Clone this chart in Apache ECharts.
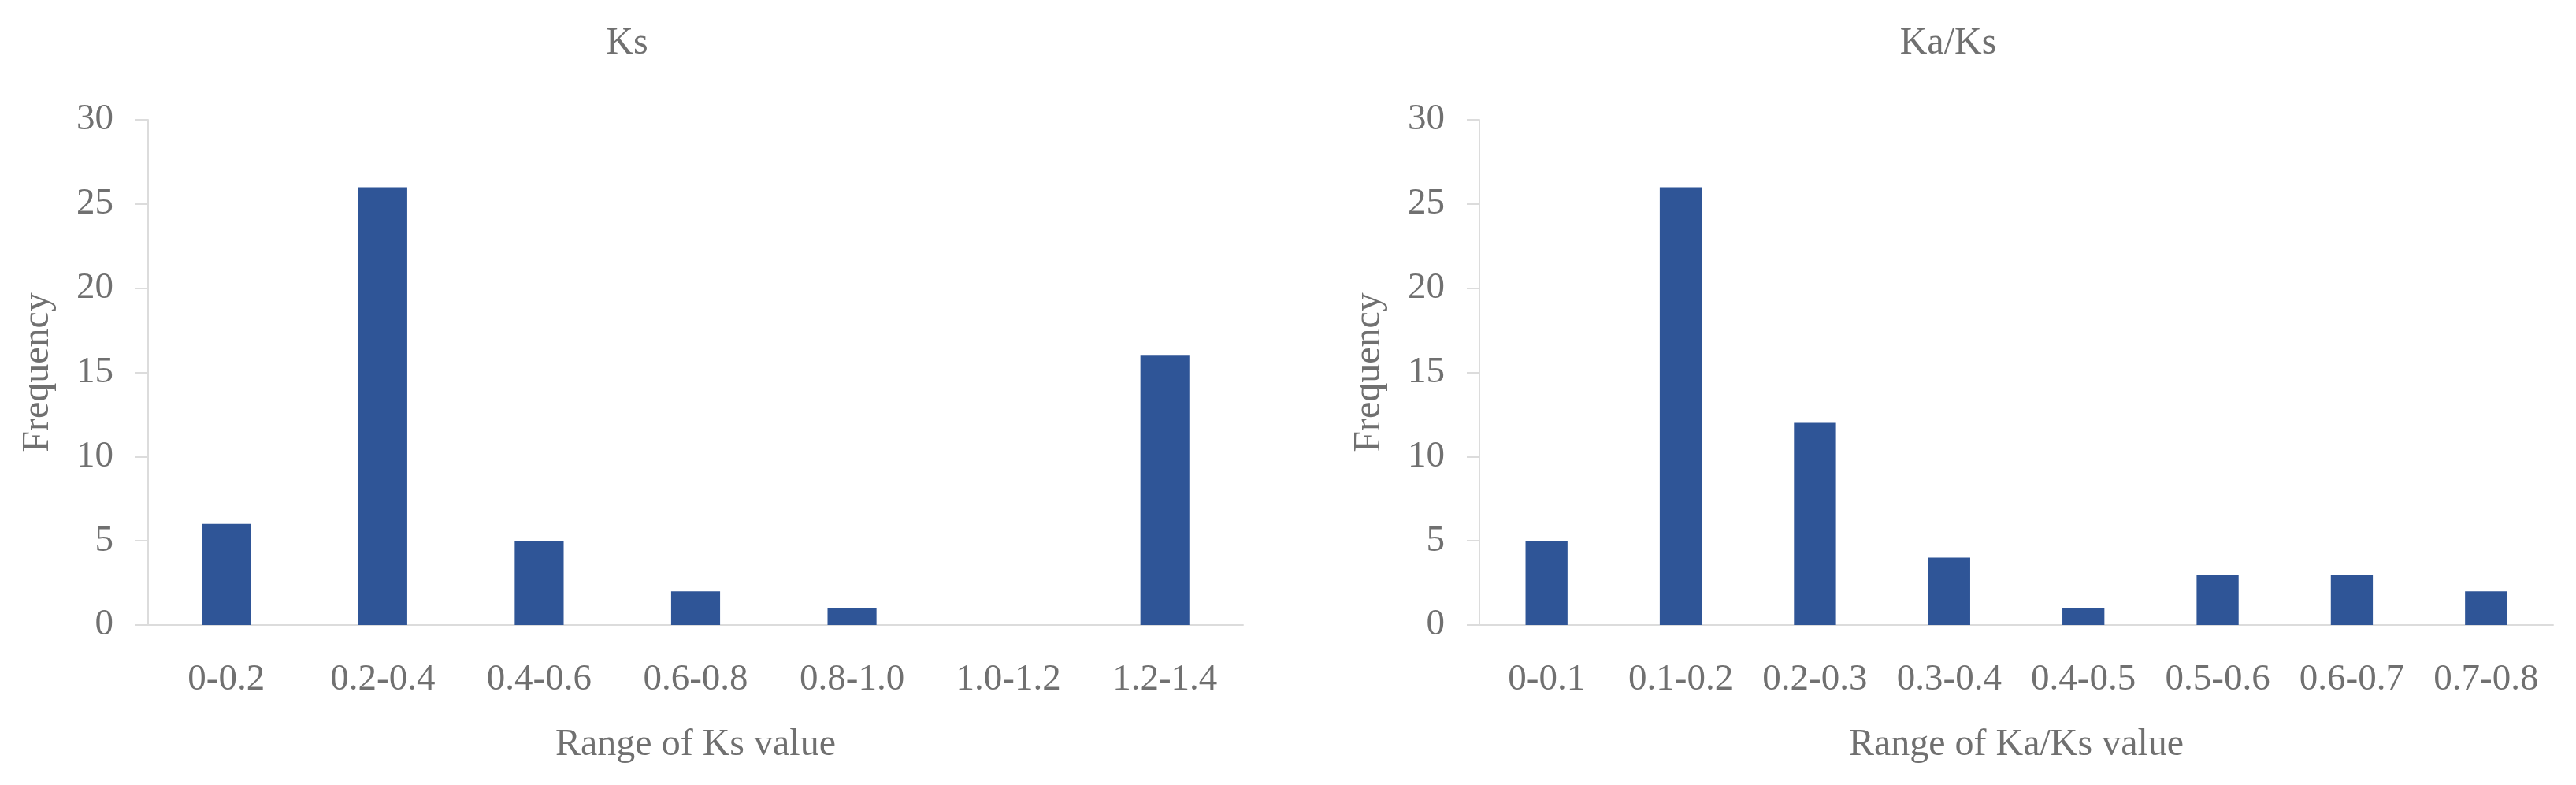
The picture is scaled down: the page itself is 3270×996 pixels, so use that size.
<!DOCTYPE html>
<html>
<head>
<meta charset="utf-8">
<script src="https://cdn.jsdelivr.net/npm/echarts@6/dist/echarts.min.js"></script>
<style>
html,body{margin:0;padding:0;background:#fff;}
#chart{width:3270px;height:996px;}
</style>
</head>
<body>
<div id="chart"></div>
<script>
const ksCategories = ['0-0.2', '0.2-0.4', '0.4-0.6', '0.6-0.8', '0.8-1.0', '1.0-1.2', '1.2-1.4'];
const ksValues = [6, 26, 5, 2, 1, 0, 16];
const kaksCategories = ['0-0.1', '0.1-0.2', '0.2-0.3', '0.3-0.4', '0.4-0.5', '0.5-0.6', '0.6-0.7', '0.7-0.8'];
const kaksValues = [5, 26, 12, 4, 1, 3, 3, 2];
const titles = ['Ks', 'Ka/Ks'];
const xNames = ['Range of Ks value', 'Range of Ka/Ks value'];
const yName = 'Frequency';
const yMin = 0, yMax = 30, yStep = 5;

const FONT = '"Liberation Serif", "DejaVu Serif", serif';
const TXT = '#707070';
const AX = '#dcdcdc';
const BAR = '#2F5597';

function xAxis(idx, cats, name) {
  return {
    type: 'category', gridIndex: idx, data: cats,
    axisLine: { show: true, lineStyle: { color: AX, width: 2 } },
    axisTick: { show: false },
    axisLabel: { color: TXT, fontFamily: FONT, fontSize: 47, margin: 46, interval: 0 },
    name: name, nameLocation: 'middle', nameGap: 128,
    nameTextStyle: { color: TXT, fontFamily: FONT, fontSize: 48 }
  };
}
function yAxis(idx) {
  return {
    type: 'value', gridIndex: idx, min: yMin, max: yMax, interval: yStep,
    axisLine: { show: true, lineStyle: { color: AX, width: 2 } },
    axisTick: { show: true, length: 16, lineStyle: { color: AX, width: 2 } },
    splitLine: { show: false },
    axisLabel: { color: TXT, fontFamily: FONT, fontSize: 47, margin: 44 },
    name: yName, nameLocation: 'middle', nameGap: 116,
    nameTextStyle: { color: TXT, fontFamily: FONT, fontSize: 48 }
  };
}

const chart = echarts.init(document.getElementById('chart'), null, { renderer: 'canvas' });
chart.setOption({
  backgroundColor: '#ffffff',
  animation: false,
  title: [
    { text: titles[0], left: 791, top: 26, textAlign: 'center',
      textStyle: { color: TXT, fontFamily: FONT, fontSize: 48, fontWeight: 'normal' } },
    { text: titles[1], left: 2468, top: 26, textAlign: 'center',
      textStyle: { color: TXT, fontFamily: FONT, fontSize: 48, fontWeight: 'normal' } }
  ],
  grid: [
    { left: 188, right: 3270 - 1578, top: 152, bottom: 996 - 793 },
    { left: 1878, right: 3270 - 3241, top: 152, bottom: 996 - 793 }
  ],
  xAxis: [xAxis(0, ksCategories, xNames[0]), xAxis(1, kaksCategories, xNames[1])],
  yAxis: [yAxis(0), yAxis(1)],
  series: [
    { type: 'bar', xAxisIndex: 0, yAxisIndex: 0, data: ksValues, barWidth: '31.3%',
      itemStyle: { color: BAR } },
    { type: 'bar', xAxisIndex: 1, yAxisIndex: 1, data: kaksValues, barWidth: '31.3%',
      itemStyle: { color: BAR } }
  ]
});
</script>
</body>
</html>
